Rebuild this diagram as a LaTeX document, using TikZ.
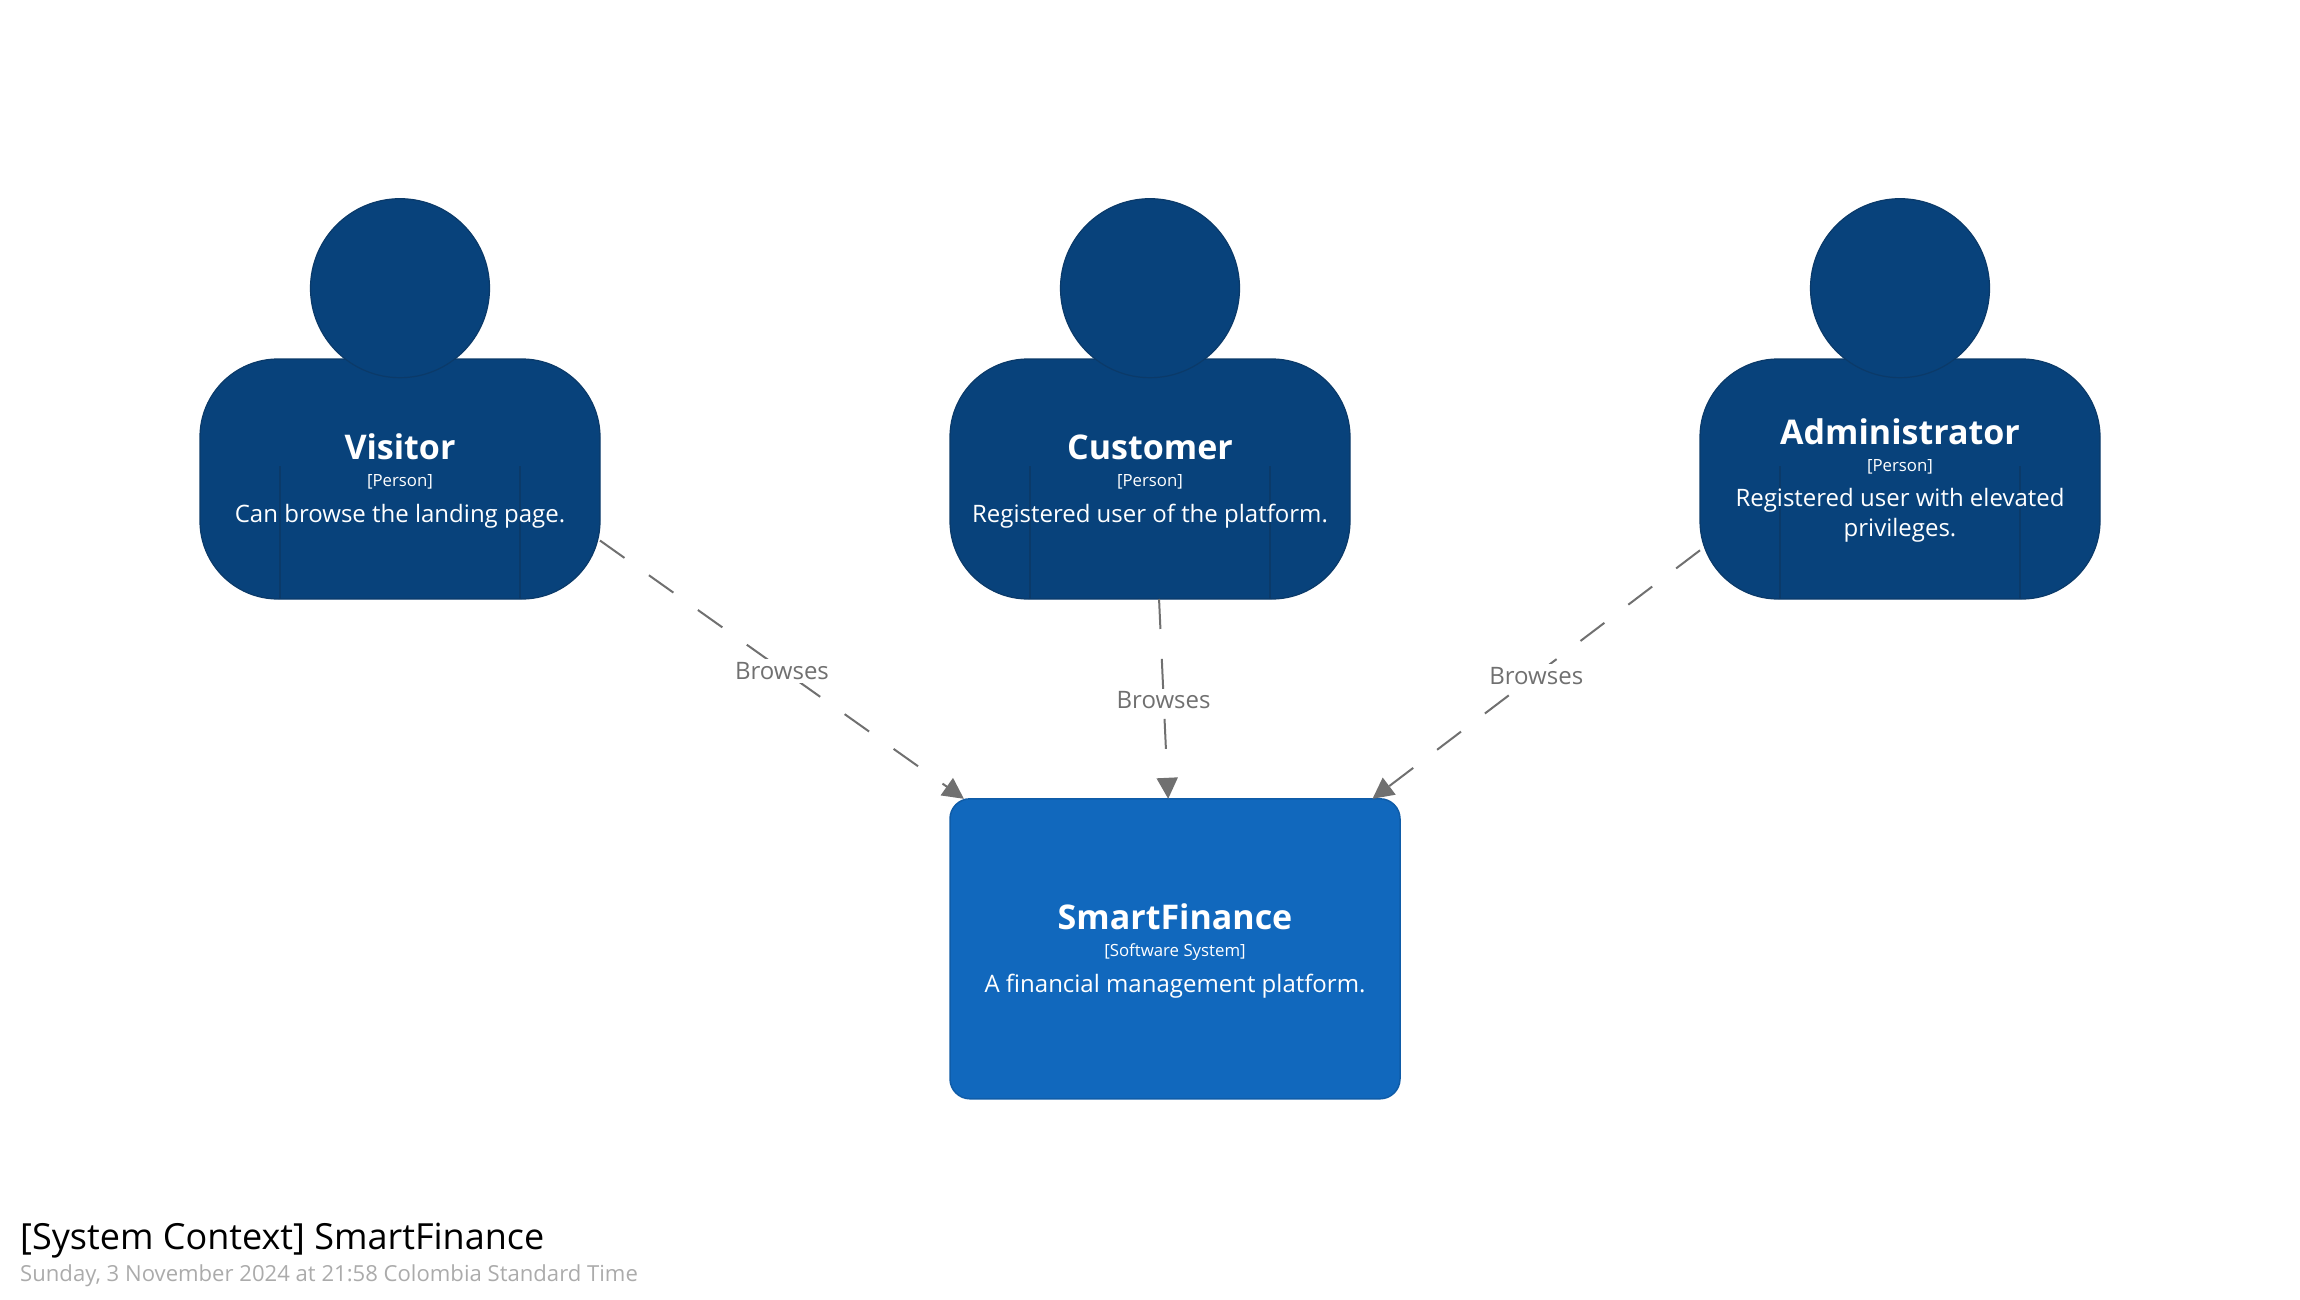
\documentclass[tikz,border=0pt]{standalone}
\usepackage{fontspec}
\setmainfont{Open Sans}
\usetikzlibrary{arrows.meta}
\definecolor{personfill}{HTML}{08427B}
\definecolor{personline}{HTML}{0B3A69}
\definecolor{sysfill}{HTML}{1168BD}
\definecolor{sysline}{HTML}{0F5CA8}
\definecolor{relgrey}{HTML}{707070}
\definecolor{dategrey}{HTML}{ABABAB}
\tikzset{
  personbound/.style={rectangle,minimum width=400pt,minimum height=400pt,inner sep=0pt,outer sep=0pt},
  personbody/.style={rectangle,draw=personline,fill=personfill,line width=1.2pt,rounded corners=78pt,minimum width=400pt,minimum height=240pt,inner sep=0pt,outer sep=0pt},
  personhead/.style={circle,draw=personline,fill=personfill,line width=1.2pt,minimum size=179pt,inner sep=0pt,outer sep=0pt},
  armline/.style={draw=personline,line width=1.2pt},
  sysbox/.style={rectangle,draw=sysline,fill=sysfill,line width=1.5pt,rounded corners=20pt,minimum width=450pt,minimum height=300pt,inner sep=0pt,outer sep=0pt},
  nametext/.style={anchor=base,text=white,font=\fontsize{34}{40}\selectfont\bfseries,inner sep=0pt},
  metatext/.style={anchor=base,text=white,font=\fontsize{16.8}{20}\selectfont,inner sep=0pt},
  desctext/.style={anchor=base,text=white,font=\fontsize{24}{29.3}\selectfont,inner sep=0pt,align=center},
  rel/.style={draw=relgrey,line width=2pt,dash pattern=on 30pt off 30pt,-{Triangle[length=21pt,width=21pt,fill=relgrey]}},
  rellabel/.style={midway,fill=white,text=relgrey,font=\fontsize{24}{29}\selectfont,inner xsep=2pt,inner ysep=3pt,yshift=-1.5pt},
  titletext/.style={anchor=base west,text=black,font=\fontsize{36}{43}\selectfont,inner sep=0pt},
  datetext/.style={anchor=base west,text=dategrey,font=\fontsize{22.1}{27}\selectfont,inner sep=0pt},
}
\newcommand{\personshape}[2]{%
  \node[personbound] (#1) at (#2,399) {};
  \node[personbody] (#1body) at (#2,479) {};
  \node[personhead] (#1head) at (#2,288.2) {};
  \draw[armline] ([xshift=80pt]#1body.south west) -- ++(0,-133);
  \draw[armline] ([xshift=-80pt]#1body.south east) -- ++(0,-133);
}
\begin{document}
\begin{tikzpicture}[x=1pt,y=-1pt]
\useasboundingbox (0,0) rectangle (2300,1300);
\personshape{visitor}{400}
\personshape{customer}{1150}
\personshape{admin}{1900}
\node[sysbox] (smart) at (1175,948.8) {};

\node[nametext] (visitorname) at (400,459.5) {Visitor};
\node[metatext] (visitormeta) at (400,486.5) {[Person]};
\node[desctext] (visitordesc) at (400,522.5) {Can browse the landing page.};

\node[nametext] (customername) at (1150,459.5) {Customer};
\node[metatext] (customermeta) at (1150,486.5) {[Person]};
\node[desctext] (customerdesc) at (1150,522.5) {Registered user of the platform.};

\node[nametext] (adminname) at (1900,444.5) {Administrator};
\node[metatext] (adminmeta) at (1900,471.5) {[Person]};
\node[desctext] (admindesc) at (1900,536) {Registered user with elevated\\privileges.};

\node[nametext] (smartname) at (1175,929.5) {SmartFinance};
\node[metatext] (smartmeta) at (1175,956) {[Software System]};
\node[desctext] (smartdesc) at (1175,992.5) {A financial management platform.};

\draw[rel] (visitor) -- node[rellabel] (relvisitor) {Browses} (smart);
\draw[rel] (customer) -- node[rellabel] (relcustomer) {Browses} (smart);
\draw[rel] (admin) -- node[rellabel] (reladmin) {Browses} (smart);

\node[titletext] (title) at (20,1249.5) {[System Context] SmartFinance};
\node[datetext] (date) at (20,1281.5) {Sunday, 3 November 2024 at 21:58 Colombia Standard Time};
\end{tikzpicture}
\end{document}
